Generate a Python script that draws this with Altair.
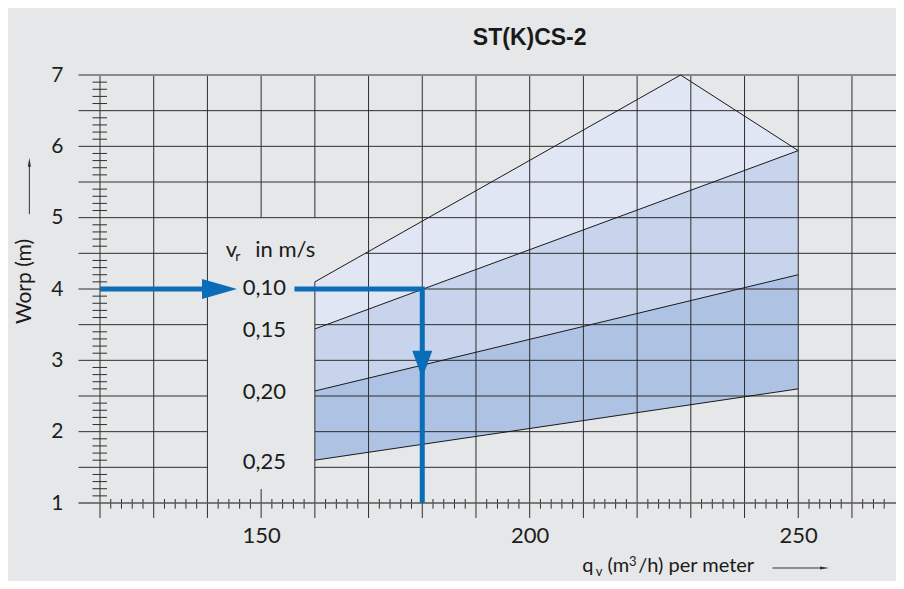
import altair as alt
import pandas as pd

BG = "#e6e7e8"
BLUE = "#0b6cb8"
GRID = "#2e2e2e"
FONT = "Lato"

# ---------------- axis / grid values ----------------
x_major = [120, 130, 140, 150, 160, 170, 180, 190, 200, 210, 220, 230, 240, 250, 260]
y_major = [1.0, 1.5, 2.0, 2.5, 3.0, 3.5, 4.0, 4.5, 5.0, 5.5, 6.0, 6.5, 7.0]
x_minor = [v for v in range(122, 268, 2) if v % 10 != 0]
y_minor = [round(1 + 0.1 * i, 1) for i in range(1, 60) if i % 5 != 0]
x_labels = [150, 200, 250]
y_labels = [1, 2, 3, 4, 5, 6, 7]

x_min, x_max = 120, 268.2
y_min, y_max = 1, 7
x_left_ext = 116.0      # horizontal grid lines start left of the axis
y_below_ext = 0.79      # vertical grid lines run below the axis
x_tick_span = [0.92, 1.056]
y_tick_span = [118.6, 121.3]

# legend box where the grid is hidden
box_left, box_right, box_top = 140, 170, 5.0
box_tick_top_150 = 1.196
grid45_start = 169.4

# ---------------- band boundaries (v_r) ----------------
edge_010_x = [160, 228.1, 250]
edge_010_y = [4.10, 7.00, 5.94]
edge_015_x = [160, 250]
edge_015_y = [3.44, 5.94]
edge_020_x = [160, 250]
edge_020_y = [2.57, 4.20]
edge_025_x = [160, 250]
edge_025_y = [1.60, 2.60]

v_labels = ["0,10", "0,15", "0,20", "0,25"]
v_label_y = [4.01, 3.43, 2.55, 1.57]
v_label_x = 150.6

# example reading (blue arrows)
blue_a_x = [120, 140]
blue_a_y = [4.0, 4.0]
blue_b_x = [156.2, 180, 180]
blue_b_y = [4.0, 4.0, 1.0]
arrow_r = (142.25, 4.0)
arrow_d = (180, 2.943)

# ---------------- scales / axes ----------------
xs = alt.Scale(domain=[x_min, x_max], nice=False, zero=False)
ys = alt.Scale(domain=[y_min, y_max], nice=False, zero=False)
xaxis = alt.Axis(values=x_labels, labelFontSize=22, labelFont=FONT, labelColor="#1e1e1e",
                 labelPadding=32, labelBaseline="middle", ticks=False, tickSize=0,
                 domain=False, grid=False, title=None, format="d")
yaxis = alt.Axis(values=y_labels, labelFontSize=21, labelFont=FONT, labelColor="#1e1e1e",
                 labelPadding=37, ticks=False, tickSize=0, domain=False, grid=False,
                 title=None, format="d")


def X(f="x"):
    return alt.X(f, type="quantitative", scale=xs, axis=xaxis)


def Y(f="y"):
    return alt.Y(f, type="quantitative", scale=ys, axis=yaxis)


# ---------------- areas ----------------
bands = [
    (edge_010_x, edge_010_y, "#e0e6f4"),
    (edge_015_x, edge_015_y, "#c8d4ec"),
    (edge_020_x, edge_020_y, "#aec2e3"),
    (edge_025_x, edge_025_y, BG),
]
area_layers = []
for bx, by, col in bands:
    d = pd.DataFrame({"x": bx, "y": by})
    area_layers.append(
        alt.Chart(d).mark_area(color=col, opacity=1, line=False).encode(
            x=X(), y=Y(), y2=alt.datum(y_min)
        )
    )

# ---------------- grid segments ----------------
segs = []
for y in y_major:
    if y == y_min or y == y_max:
        continue
    if y >= box_top:
        segs.append((x_left_ext, x_max, y, y))
    else:
        segs.append((x_left_ext, box_left, y, y))
        start = edge_010_x[0] if y <= edge_010_y[0] else grid45_start
        segs.append((start, x_max, y, y))
for x in x_major:
    if box_left < x < box_right:
        low_top = box_tick_top_150 if x == 150 else edge_010_y[0]
        segs.append((x, x, y_below_ext, low_top))
        segs.append((x, x, box_top, y_max))
    else:
        segs.append((x, x, y_below_ext, y_max))
for x in x_minor:
    segs.append((x, x, x_tick_span[0], x_tick_span[1]))
for y in y_minor:
    segs.append((y_tick_span[0], y_tick_span[1], y, y))
grid_df = pd.DataFrame(segs, columns=["x", "x2", "y", "y2"])
grid = alt.Chart(grid_df).mark_rule(color=GRID, strokeWidth=1).encode(
    x=X(), x2="x2", y=Y(), y2="y2"
)

border_df = pd.DataFrame({"x": [x_left_ext], "x2": [x_max], "y": [y_max], "y2": [y_max]})
border = alt.Chart(border_df).mark_rule(color="#8a8a8a", strokeWidth=2.2).encode(
    x=X(), x2="x2", y=Y(), y2="y2"
)
base_df = pd.DataFrame({"x": [x_left_ext], "x2": [x_max], "y": [y_min], "y2": [y_min]})
baseline = alt.Chart(base_df).mark_rule(color="#555555", strokeWidth=1.6).encode(
    x=X(), x2="x2", y=Y(), y2="y2"
)

# ---------------- band outlines ----------------
out_rows = []
for name, ex, ey in [("a", edge_010_x, edge_010_y), ("b", edge_015_x, edge_015_y),
                     ("c", edge_020_x, edge_020_y), ("d", edge_025_x, edge_025_y)]:
    for i, (a, b) in enumerate(zip(ex, ey)):
        out_rows.append({"edge": name, "i": i, "x": a, "y": b})
out_df = pd.DataFrame(out_rows)
outlines = alt.Chart(out_df).mark_line(color="#1a1a1a", strokeWidth=1).encode(
    x=X(), y=Y(), detail="edge:N", order="i:Q"
)

# ---------------- blue reading arrows ----------------
blue_rows = [{"p": "a", "i": i, "x": a, "y": b} for i, (a, b) in enumerate(zip(blue_a_x, blue_a_y))]
blue_rows += [{"p": "b", "i": i, "x": a, "y": b} for i, (a, b) in enumerate(zip(blue_b_x, blue_b_y))]
blue = alt.Chart(pd.DataFrame(blue_rows)).mark_line(
    color=BLUE, strokeWidth=5, strokeCap="butt", strokeJoin="miter"
).encode(x=X(), y=Y(), detail="p:N", order="i:Q")

head_r = alt.Chart(pd.DataFrame({"x": [arrow_r[0]], "y": [arrow_r[1]]})).mark_point(
    shape="M-1,-0.5714L1,0L-1,0.5714Z", size=1225, filled=True, fill=BLUE, opacity=1, strokeWidth=0
).encode(x=X(), y=Y())
head_d = alt.Chart(pd.DataFrame({"x": [arrow_d[0]], "y": [arrow_d[1]]})).mark_point(
    shape="M-0.7326,-1L0.7326,-1L0,1Z", size=745, filled=True, fill=BLUE, opacity=1, strokeWidth=0
).encode(x=X(), y=Y())

# ---------------- texts ----------------
lab_df = pd.DataFrame({"label": v_labels, "x": [v_label_x] * 4, "y": v_label_y})
vlabels = alt.Chart(lab_df).mark_text(
    font=FONT, fontSize=22, color="#1a1a1a", align="center", baseline="middle"
).encode(x=X(), y=Y(), text="label:N")


def txt(t, x, y, size, align="left", baseline="alphabetic", font=FONT, weight="normal", angle=0):
    return alt.Chart(pd.DataFrame({"t": [t], "x": [x], "y": [y]})).mark_text(
        font=font, fontSize=size, fontWeight=weight, color="#1a1a1a", align=align,
        baseline=baseline, angle=angle
    ).encode(x=X(), y=Y(), text="t:N")


texts = [
    txt("ST(K)CS-2", 200, 7.52, 23, align="center", baseline="middle",
        font="Liberation Sans", weight="bold"),
    txt("v", 143.4, 4.449, 22),
    txt("r", 145.2, 4.397, 14),
    txt("in m/s", 148.9, 4.453, 22),
    txt("Worp  (m)", 106.1, 4.105, 21, align="center", baseline="middle", angle=270),
    txt("q", 209.8, 0.033, 20),
    txt("v", 212.3, -0.030, 13),
    txt("(m", 214.5, 0.033, 20),
    txt("3", 218.5, 0.117, 13),
    txt("/h) per meter", 220.2, 0.033, 20),
]

# small title arrows
yarrow = alt.Chart(pd.DataFrame({"x": [106.85], "x2": [106.85], "y": [5.05], "y2": [5.78]})).mark_rule(
    color="#333333", strokeWidth=1
).encode(x=X(), x2="x2", y=Y(), y2="y2")
yarrow_head = alt.Chart(pd.DataFrame({"x": [106.85], "y": [5.777]})).mark_point(
    shape="M-0.35,1L0,-1L0.35,1Z", size=81, filled=True, fill="#333333", opacity=1, strokeWidth=0
).encode(x=X(), y=Y())
xarrow = alt.Chart(pd.DataFrame({"x": [245.2], "x2": [254.8], "y": [0.089], "y2": [0.089]})).mark_rule(
    color="#333333", strokeWidth=1
).encode(x=X(), x2="x2", y=Y(), y2="y2")
xarrow_head = alt.Chart(pd.DataFrame({"x": [254.9], "y": [0.089]})).mark_point(
    shape="M-1,-0.35L1,0L-1,0.35Z", size=81, filled=True, fill="#333333", opacity=1, strokeWidth=0
).encode(x=X(), y=Y())

chart = alt.layer(
    *area_layers, grid, baseline, border, outlines, blue, head_r, head_d, vlabels,
    *texts, yarrow, yarrow_head, xarrow, xarrow_head
).properties(
    width=796, height=428,
    padding={"left": 92, "top": 67, "right": 0, "bottom": 78},
    autosize=alt.AutoSizeParams(type="none"),
).configure(background=BG).configure_view(stroke=None)

chart.save("out.html", embed_options={"renderer": "svg", "actions": False})
